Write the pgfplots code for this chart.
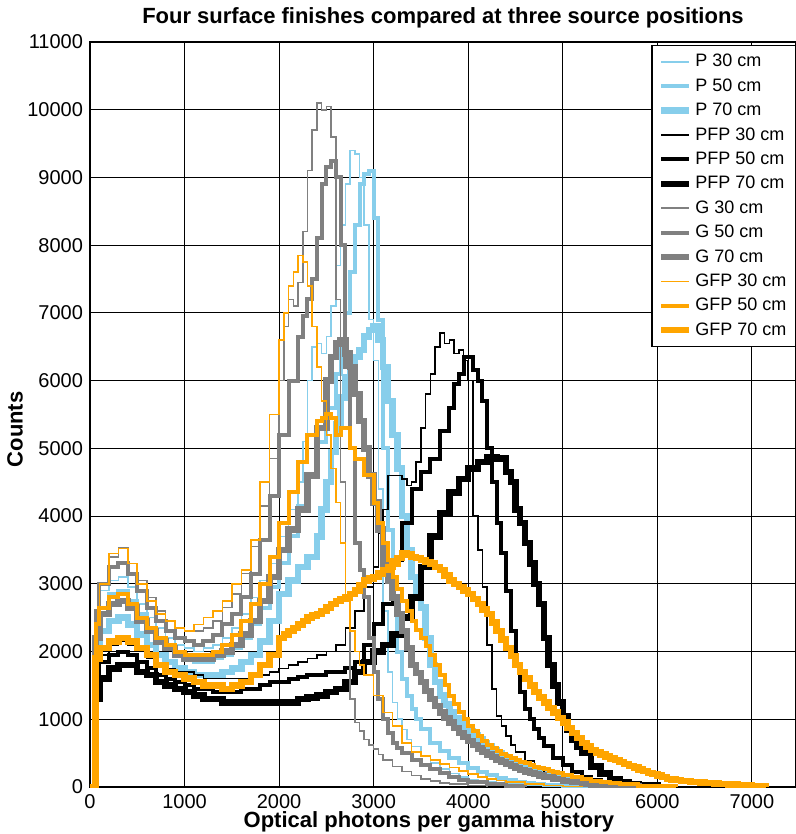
\documentclass[border=0pt]{standalone}
\usepackage{fontspec}
\setmainfont{Liberation Sans}
\usepackage{pgfplots}
\pgfplotsset{compat=1.18}
\definecolor{pblue}{RGB}{135,206,235}
\definecolor{ggray}{RGB}{128,128,128}
\definecolor{gorange}{RGB}{255,165,0}
\begin{document}
\begin{tikzpicture}
\begin{axis}[name=ax,
  scale only axis, width=353pt, height=372.5pt,
  xmin=0, xmax=7466, ymin=0, ymax=11000,
  xtick={0,1000,...,7000}, ytick={0,1000,...,11000},
  scaled ticks=false,
  /pgf/number format/assume math mode=true,
  /pgf/number format/1000 sep={},
  ticklabel style={font=\fontsize{10}{12}\selectfont},
  grid=major, major grid style={black, line width=0.55pt},
  tick style={draw=none},
  axis line style={black, line width=0.6pt},
  every axis title/.style={at={(axis description cs:0.5,1)}, yshift=12pt, anchor=center, font=\bfseries\fontsize{11}{13}\selectfont},
  title={Four surface finishes compared at three source positions},
  every axis x label/.style={at={(axis description cs:0.48,0)}, yshift=-17.5pt, anchor=center, font=\bfseries\fontsize{11}{13}\selectfont},
  xlabel={Optical photons per gamma history},
  every axis y label/.style={at={(axis description cs:-0.106,0.48)}, rotate=90, anchor=center, font=\bfseries\fontsize{11}{13}\selectfont},
  ylabel={Counts},
  legend style={at={(1,1)}, anchor=north east, yshift=-1.5pt, draw=black, line width=0.6pt,
    font=\fontsize{9}{10}\selectfont, row sep=0pt,
    nodes={inner sep=1.5pt, text height=7.2pt, text depth=2pt}},
  legend cell align=left,
  legend image code/.code={\draw[#1] (0pt,0pt) -- (14pt,0pt);},
  const plot, line join=miter,
]
\addplot[pblue, line width=0.8pt] coordinates {(0,0) (60,2500) (100,2900) (200,3050) (300,3100) (400,2950) (500,2700) (600,2500) (700,2350) (800,2200) (900,2100) (1000,2050) (1100,2000) (1200,2050) (1300,2100) (1400,2200) (1500,2350) (1600,2550) (1700,2800) (1800,3050) (1900,3300) (2000,3700) (2100,4100) (2200,4500) (2250,5100) (2300,6000) (2350,6500) (2400,6550) (2450,6400) (2500,6650) (2550,7100) (2600,7700) (2650,8300) (2700,8900) (2750,9400) (2800,9350) (2850,9000) (2900,8300) (2950,6900) (3000,6300) (3050,4400) (3100,2600) (3150,1700) (3200,1250) (3250,1000) (3300,850) (3350,700) (3400,600) (3500,450) (3600,350) (3700,270) (3800,200) (3900,150) (4000,110) (4100,90) (4200,70) (4300,55) (4400,40) (4600,20) (4800,10) (5000,0)};
\addlegendentry{P 30 cm}
\addplot[pblue, line width=2.0pt] coordinates {(0,0) (60,2300) (100,2650) (200,2850) (300,2900) (400,2750) (500,2550) (600,2350) (700,2200) (800,2050) (900,1950) (1000,1900) (1100,1850) (1200,1850) (1300,1900) (1400,1950) (1500,2050) (1600,2200) (1700,2400) (1800,2650) (1900,2950) (2000,3300) (2100,3700) (2200,4150) (2300,4600) (2400,5100) (2500,5600) (2600,6100) (2650,6500) (2700,7000) (2750,7600) (2800,8300) (2850,8900) (2900,9050) (2950,9100) (3000,8400) (3050,6900) (3100,5000) (3150,3800) (3200,2700) (3250,2000) (3300,1600) (3350,1350) (3400,1150) (3450,1000) (3500,850) (3600,650) (3700,530) (3800,430) (3900,350) (4000,280) (4100,220) (4200,180) (4300,140) (4400,110) (4500,80) (4600,60) (4700,45) (4800,35) (5000,20) (5200,10) (5400,0)};
\addlegendentry{P 50 cm}
\addplot[pblue, line width=3.2pt] coordinates {(0,0) (60,2000) (100,2300) (200,2450) (300,2500) (400,2400) (500,2250) (600,2100) (700,1950) (800,1850) (900,1750) (1000,1700) (1100,1650) (1200,1650) (1300,1650) (1400,1700) (1500,1750) (1600,1850) (1700,1950) (1800,2150) (1900,2450) (2000,2850) (2100,3050) (2200,3250) (2300,3400) (2400,3700) (2450,4100) (2500,4500) (2550,4950) (2600,5350) (2650,5750) (2700,6050) (2750,6250) (2800,6350) (2850,6450) (2900,6650) (2950,6750) (3000,6800) (3050,6600) (3100,6200) (3150,5700) (3200,5200) (3250,4700) (3300,4000) (3350,3500) (3400,3100) (3450,2850) (3500,2650) (3550,2200) (3600,1800) (3650,1550) (3700,1350) (3750,1220) (3800,1100) (3850,1020) (3900,950) (3950,880) (4000,820) (4050,760) (4100,700) (4150,650) (4200,600) (4250,550) (4300,500) (4350,450) (4400,400) (4450,365) (4500,330) (4550,300) (4600,270) (4650,245) (4700,220) (4750,200) (4800,180) (4850,160) (4900,140) (4950,125) (5000,110) (5100,85) (5200,60) (5300,45) (5400,30) (5600,10) (5800,0)};
\addlegendentry{P 70 cm}
\addplot[black, line width=0.8pt] coordinates {(0,0) (60,1700) (100,1950) (200,2100) (300,2150) (400,2100) (500,2000) (600,1900) (700,1800) (800,1750) (900,1700) (1000,1700) (1100,1650) (1200,1600) (1300,1600) (1400,1600) (1500,1600) (1600,1600) (1700,1650) (1800,1650) (1900,1700) (2000,1750) (2100,1800) (2200,1850) (2300,1900) (2400,1950) (2500,2000) (2600,2100) (2700,2350) (2800,2600) (2900,2950) (3000,3250) (3050,3750) (3100,4100) (3150,4600) (3200,4600) (3300,4550) (3350,4450) (3400,4500) (3450,4800) (3500,5300) (3550,5800) (3600,6100) (3650,6500) (3700,6700) (3750,6550) (3800,6600) (3850,6400) (3900,6450) (3950,6300) (4000,6000) (4050,4000) (4100,3500) (4150,2950) (4200,2100) (4250,1450) (4300,1050) (4350,900) (4400,750) (4450,620) (4500,520) (4600,380) (4700,280) (4800,180) (4900,120) (5000,80) (5100,55) (5200,40) (5400,15) (5600,0)};
\addlegendentry{PFP 30 cm}
\addplot[black, line width=2.0pt] coordinates {(0,0) (60,1600) (100,1850) (200,1950) (300,2000) (400,1950) (500,1850) (600,1750) (700,1650) (800,1600) (900,1550) (1000,1500) (1100,1450) (1200,1450) (1300,1400) (1400,1400) (1500,1400) (1600,1450) (1700,1450) (1800,1500) (1900,1550) (2000,1550) (2100,1600) (2200,1620) (2300,1650) (2400,1650) (2500,1700) (2600,1700) (2700,1750) (2800,1850) (2900,2100) (3000,2400) (3100,2700) (3200,3350) (3300,3900) (3400,4400) (3500,4650) (3600,4850) (3700,5250) (3800,5600) (3850,5950) (3900,6100) (3950,6350) (4000,6350) (4050,6150) (4100,6000) (4150,5700) (4200,5000) (4250,4500) (4300,3900) (4350,3450) (4400,2900) (4450,2300) (4500,1800) (4550,1400) (4600,1150) (4650,1000) (4700,850) (4750,720) (4800,600) (4900,430) (5000,320) (5100,220) (5200,150) (5300,100) (5400,60) (5500,35) (5600,20) (5800,0)};
\addlegendentry{PFP 50 cm}
\addplot[black, line width=3.2pt] coordinates {(0,0) (60,1300) (100,1600) (200,1750) (300,1800) (400,1800) (500,1700) (600,1650) (700,1550) (800,1500) (900,1450) (1000,1400) (1100,1350) (1200,1300) (1300,1300) (1400,1250) (1500,1250) (1600,1250) (1700,1250) (1800,1250) (1900,1250) (2000,1250) (2100,1250) (2200,1300) (2300,1320) (2400,1350) (2500,1400) (2600,1450) (2700,1550) (2800,1700) (2900,1850) (3000,2000) (3100,2100) (3200,2250) (3300,2500) (3400,2800) (3500,3250) (3600,3700) (3700,4050) (3800,4350) (3900,4550) (4000,4700) (4100,4800) (4200,4870) (4300,4850) (4400,4650) (4450,4500) (4500,4100) (4550,3900) (4600,3600) (4650,3300) (4700,3000) (4750,2700) (4800,2200) (4850,1800) (4900,1500) (4950,1250) (5000,1050) (5050,850) (5100,700) (5150,600) (5200,500) (5300,300) (5400,200) (5500,120) (5600,70) (5700,40) (5800,20) (6000,0)};
\addlegendentry{PFP 70 cm}
\addplot[ggray, line width=0.8pt] coordinates {(0,0) (60,2300) (100,3000) (200,3400) (300,3530) (400,3300) (500,3050) (600,2800) (700,2600) (800,2450) (900,2350) (1000,2300) (1100,2300) (1200,2350) (1300,2450) (1400,2650) (1500,2850) (1600,3150) (1700,3550) (1800,4150) (1900,4850) (2000,6000) (2050,6800) (2100,7200) (2150,7100) (2200,7450) (2250,8200) (2300,9100) (2350,9700) (2400,10100) (2450,10000) (2500,10050) (2550,9600) (2600,7200) (2650,4500) (2700,2800) (2750,1300) (2800,950) (2850,830) (2900,700) (2950,620) (3000,560) (3050,480) (3100,400) (3200,300) (3300,230) (3400,170) (3500,120) (3600,90) (3700,60) (3800,40) (4000,20) (4200,0)};
\addlegendentry{G 30 cm}
\addplot[ggray, line width=2.0pt] coordinates {(0,0) (60,2600) (100,3000) (200,3250) (300,3300) (400,3150) (500,2900) (600,2650) (700,2450) (800,2300) (900,2200) (1000,2150) (1100,2100) (1200,2150) (1300,2250) (1400,2400) (1500,2550) (1600,2800) (1700,3150) (1800,3650) (1900,4300) (2000,5200) (2100,6000) (2200,6650) (2250,6950) (2300,7200) (2350,7500) (2400,8100) (2450,8900) (2500,9150) (2550,9250) (2600,9000) (2650,8000) (2700,6200) (2750,5000) (2800,3600) (2850,3200) (2900,2800) (2950,2200) (3000,1700) (3050,1300) (3100,1000) (3150,800) (3200,650) (3250,570) (3300,500) (3400,400) (3500,320) (3600,260) (3700,200) (3800,150) (3900,110) (4000,80) (4200,45) (4400,20) (4600,0)};
\addlegendentry{G 50 cm}
\addplot[ggray, line width=3.2pt] coordinates {(0,0) (60,2200) (100,2550) (200,2700) (300,2750) (400,2650) (500,2450) (600,2300) (700,2150) (800,2050) (900,1950) (1000,1900) (1100,1900) (1200,1900) (1300,1950) (1400,2000) (1500,2100) (1600,2250) (1700,2450) (1800,2750) (1900,3100) (2000,3500) (2100,3800) (2200,4100) (2300,4600) (2400,5300) (2500,6000) (2550,6350) (2600,6550) (2650,6600) (2700,6400) (2750,6200) (2800,5800) (2850,5400) (2900,5000) (2950,4600) (3000,4200) (3050,3800) (3100,3300) (3150,3050) (3200,2800) (3250,2550) (3300,2300) (3350,2050) (3400,1800) (3450,1680) (3500,1550) (3550,1420) (3600,1300) (3650,1200) (3700,1100) (3750,1020) (3800,950) (3850,870) (3900,800) (3950,740) (4000,680) (4050,620) (4100,570) (4150,520) (4200,480) (4250,440) (4300,400) (4350,370) (4400,340) (4450,310) (4500,280) (4550,255) (4600,230) (4650,210) (4700,190) (4750,170) (4800,150) (4900,120) (5000,90) (5100,70) (5200,50) (5300,35) (5400,25) (5600,10) (5800,0)};
\addlegendentry{G 70 cm}
\addplot[gorange, line width=0.8pt] coordinates {(0,0) (60,2400) (100,3000) (200,3450) (300,3520) (400,3300) (500,3000) (600,2750) (700,2550) (800,2450) (900,2350) (1000,2300) (1100,2400) (1200,2500) (1300,2600) (1400,2750) (1500,3000) (1600,3200) (1700,3650) (1800,4500) (1900,5500) (2000,6600) (2050,7000) (2100,7400) (2150,7600) (2200,7850) (2250,7750) (2300,7400) (2350,6800) (2400,6200) (2450,5700) (2500,5200) (2550,4700) (2600,4200) (2650,3600) (2700,2800) (2750,2300) (2800,2000) (2850,1800) (2900,1650) (3000,1350) (3100,1100) (3200,900) (3300,650) (3400,520) (3500,460) (3600,400) (3700,340) (3800,290) (3900,240) (4000,190) (4100,150) (4200,120) (4300,95) (4400,75) (4600,45) (4800,25) (5000,10) (5200,0)};
\addlegendentry{GFP 30 cm}
\addplot[gorange, line width=2.0pt] coordinates {(0,0) (60,2400) (100,2650) (200,2800) (300,2850) (400,2700) (500,2500) (600,2350) (700,2200) (800,2100) (900,2000) (1000,1950) (1100,1950) (1200,1950) (1300,2000) (1400,2100) (1500,2250) (1600,2450) (1700,2700) (1800,3000) (1900,3400) (2000,3900) (2100,4350) (2200,4800) (2300,5200) (2400,5400) (2450,5450) (2500,5500) (2550,5450) (2600,5200) (2650,5300) (2700,5300) (2750,5000) (2800,4850) (2900,4600) (3000,4200) (3050,3900) (3100,3600) (3150,3350) (3200,3100) (3250,2920) (3300,2750) (3350,2600) (3400,2450) (3450,2320) (3500,2200) (3550,2080) (3600,1950) (3650,1800) (3700,1650) (3750,1500) (3800,1350) (3850,1220) (3900,1100) (3950,1000) (4000,900) (4050,820) (4100,750) (4150,680) (4200,620) (4250,570) (4300,530) (4350,490) (4400,460) (4450,430) (4500,400) (4550,375) (4600,350) (4650,325) (4700,300) (4750,280) (4800,260) (4850,240) (4900,220) (4950,200) (5000,180) (5100,150) (5200,120) (5300,95) (5400,70) (5500,55) (5600,40) (5800,20) (6000,8) (6200,0)};
\addlegendentry{GFP 50 cm}
\addplot[gorange, line width=3.2pt] coordinates {(0,0) (60,1900) (100,2050) (200,2150) (300,2200) (400,2150) (500,2050) (600,1950) (700,1800) (800,1700) (900,1650) (1000,1600) (1100,1550) (1200,1500) (1300,1500) (1400,1450) (1500,1500) (1600,1550) (1700,1650) (1800,1800) (1900,1950) (2000,2200) (2050,2250) (2100,2300) (2150,2350) (2200,2400) (2250,2450) (2300,2500) (2350,2530) (2400,2550) (2450,2600) (2500,2650) (2550,2700) (2600,2750) (2650,2780) (2700,2800) (2750,2850) (2800,2900) (2850,2980) (2900,3050) (2950,3080) (3000,3100) (3050,3150) (3100,3200) (3150,3250) (3200,3300) (3250,3380) (3300,3450) (3350,3430) (3400,3400) (3450,3380) (3500,3350) (3550,3320) (3600,3300) (3650,3250) (3700,3200) (3750,3120) (3800,3050) (3850,3000) (3900,2950) (3950,2900) (4000,2850) (4050,2780) (4100,2700) (4150,2620) (4200,2550) (4250,2430) (4300,2300) (4350,2180) (4400,2050) (4450,1930) (4500,1800) (4550,1700) (4600,1600) (4650,1500) (4700,1400) (4750,1320) (4800,1250) (4850,1170) (4900,1100) (4950,1020) (5000,950) (5050,870) (5100,800) (5150,720) (5200,650) (5250,600) (5300,550) (5350,510) (5400,480) (5450,450) (5500,420) (5550,395) (5600,370) (5650,340) (5700,310) (5750,285) (5800,260) (5850,235) (5900,210) (5950,190) (6000,170) (6050,145) (6100,120) (6150,110) (6200,100) (6250,92) (6300,85) (6350,77) (6400,70) (6450,65) (6500,60) (6550,55) (6600,50) (6650,45) (6700,40) (6750,37) (6800,35) (6850,30) (6900,25) (6950,20) (7000,15) (7050,11) (7100,8) (7150,0)};
\addlegendentry{GFP 70 cm}
\end{axis}
\pgfresetboundingbox
\path[use as bounding box] ([xshift=-45pt,yshift=-23.5pt]ax.south west) rectangle ([yshift=21pt]ax.north east);
\end{tikzpicture}
\end{document}
